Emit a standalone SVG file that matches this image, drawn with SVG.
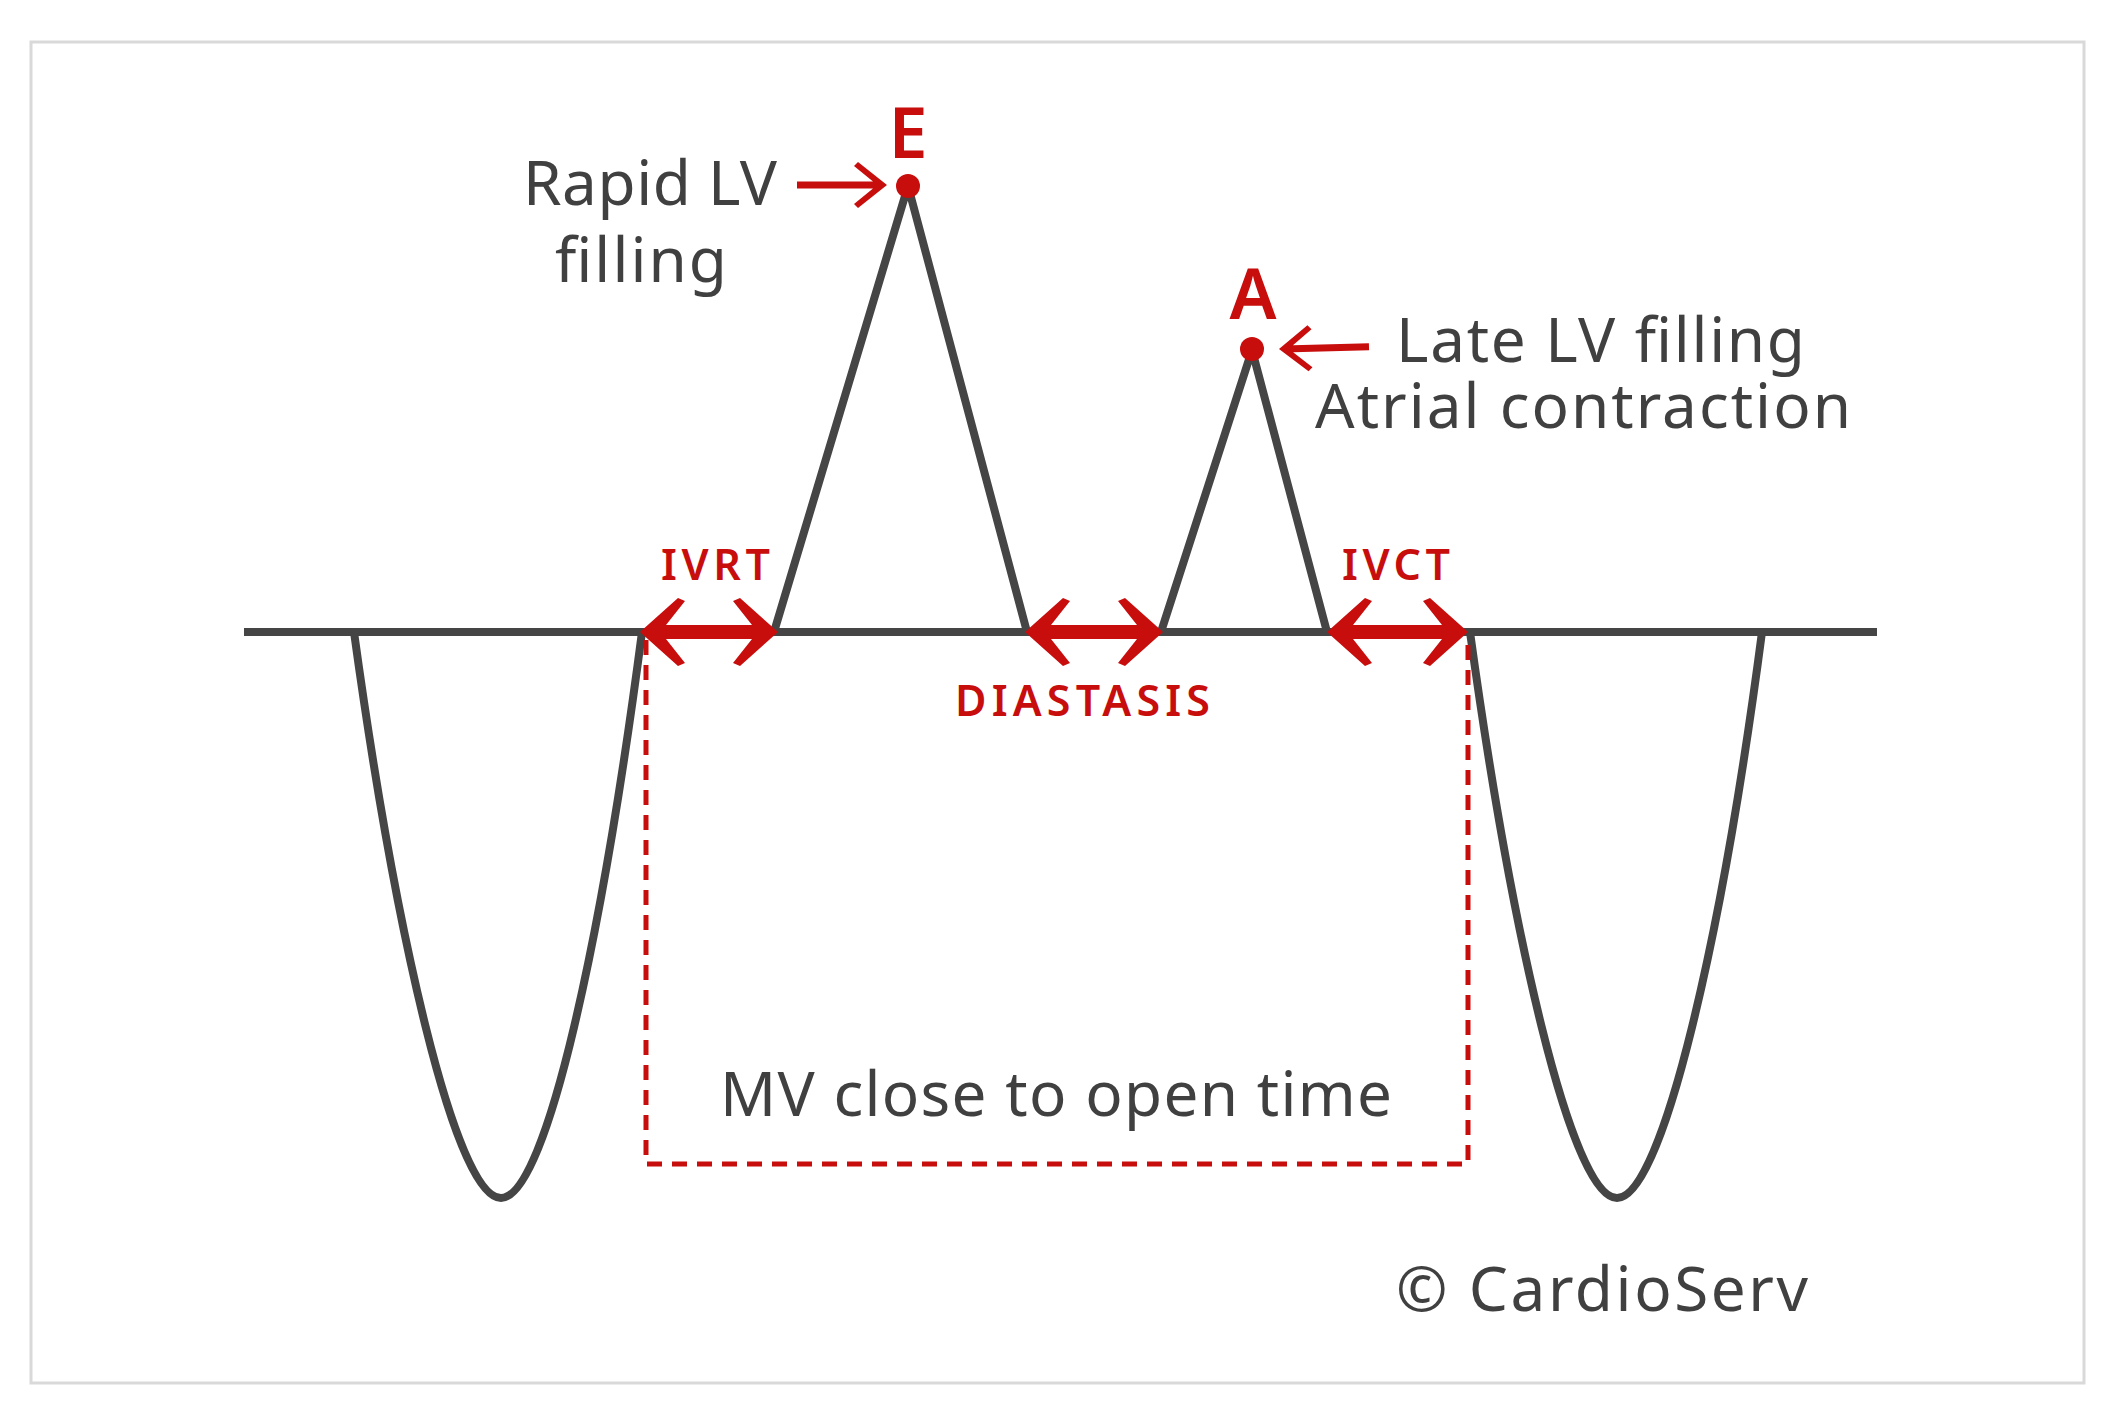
<svg xmlns="http://www.w3.org/2000/svg" xmlns:xlink="http://www.w3.org/1999/xlink" width="2125" height="1417" viewBox="0 0 2125 1417">
<style>
.wave{fill:none;stroke:#454545;stroke-width:8;stroke-linejoin:round}
.lbl{font-family:"Noto Sans","Open Sans","Liberation Sans",sans-serif;fill:#404040;font-size:62px}
.red{font-family:"Noto Sans","Open Sans","Liberation Sans",sans-serif;fill:#c80d0d;font-weight:600}
.dash{fill:none;stroke:#c80d0d;stroke-width:5;stroke-dasharray:15 10}
.shaft{stroke:#c80d0d;stroke-width:14}
.ah{fill:#c80d0d}
.dot{fill:#c80d0d}
</style>
<defs>
<path id="ah" d="M0,0 L-38,-34 L-45,-31 L-26,-7 L-26,7 L-45,31 L-38,34 Z"/>
<path id="sh" d="M0,0 L-29,-23 L-33,-19 L-14,-3.5 L-90,-3.5 L-90,3.5 L-14,3.5 L-33,19 L-29,23 Z"/>
</defs>
<rect x="0" y="0" width="2125" height="1417" fill="#ffffff"/>
<rect x="31" y="42" width="2053" height="1341" fill="none" stroke="#d9d9d9" stroke-width="3"/>
<g id="waveform">
<path class="wave" d="M244,632 H1877"/>
<path class="wave" d="M354,632 C395,930 455,1198 501,1198 C547,1198 603,930 642,632"/>
<path class="wave" d="M1470,632 C1511,930 1571,1198 1617,1198 C1663,1198 1723,930 1762,632"/>
<path class="wave" d="M774,632 L908,186 L1027,632"/>
<path class="wave" d="M1161,632 L1252,350 L1327,632"/>
</g>
<g id="mv-box">
<path class="dash" d="M646,640 V1164 H1468 V640"/>
<text class="lbl" x="720" y="1116" textLength="672" lengthAdjust="spacing">MV close to open time</text>
</g>
<g id="connectors">
<line class="shaft" x1="660" y1="632" x2="758" y2="632"/>
<use href="#ah" class="ah" transform="translate(778,632)"/>
<use href="#ah" class="ah" transform="translate(640,632) rotate(180)"/>
<line class="shaft" x1="1045" y1="632" x2="1143" y2="632"/>
<use href="#ah" class="ah" transform="translate(1163,632)"/>
<use href="#ah" class="ah" transform="translate(1025,632) rotate(180)"/>
<line class="shaft" x1="1347" y1="632" x2="1448" y2="632"/>
<use href="#ah" class="ah" transform="translate(1468,632)"/>
<use href="#ah" class="ah" transform="translate(1327,632) rotate(180)"/>
<use href="#sh" class="ah" transform="translate(887,185)"/>
<use href="#sh" class="ah" transform="translate(1279,349) rotate(178.6)"/>
</g>
<g id="E-peak">
<circle class="dot" cx="908" cy="186" r="12"/>
<text class="red" x="908" y="158" font-size="70" text-anchor="middle">E</text>
</g>
<g id="A-peak">
<circle class="dot" cx="1252" cy="349" r="12"/>
<text class="red" x="1253" y="319" font-size="70" text-anchor="middle">A</text>
</g>
<g id="rapid-label">
<text class="lbl" x="523" y="205" textLength="254" lengthAdjust="spacing">Rapid LV</text>
<text class="lbl" x="555" y="282" textLength="172" lengthAdjust="spacing">filling</text>
</g>
<g id="late-label">
<text class="lbl" x="1396" y="362" textLength="409" lengthAdjust="spacing">Late LV filling</text>
<text class="lbl" x="1315" y="428" textLength="536" lengthAdjust="spacing">Atrial contraction</text>
</g>
<g id="IVRT">
<text class="red" x="661" y="580" font-size="43" textLength="109" lengthAdjust="spacing">IVRT</text>
</g>
<g id="DIASTASIS">
<text class="red" x="955" y="716" font-size="43" textLength="255" lengthAdjust="spacing">DIASTASIS</text>
</g>
<g id="IVCT">
<text class="red" x="1342" y="580" font-size="43" textLength="108" lengthAdjust="spacing">IVCT</text>
</g>
<g id="copyright">
<text class="lbl" x="1396" y="1311" font-size="67" textLength="412" lengthAdjust="spacing">© CardioServ</text>
</g>
</svg>
